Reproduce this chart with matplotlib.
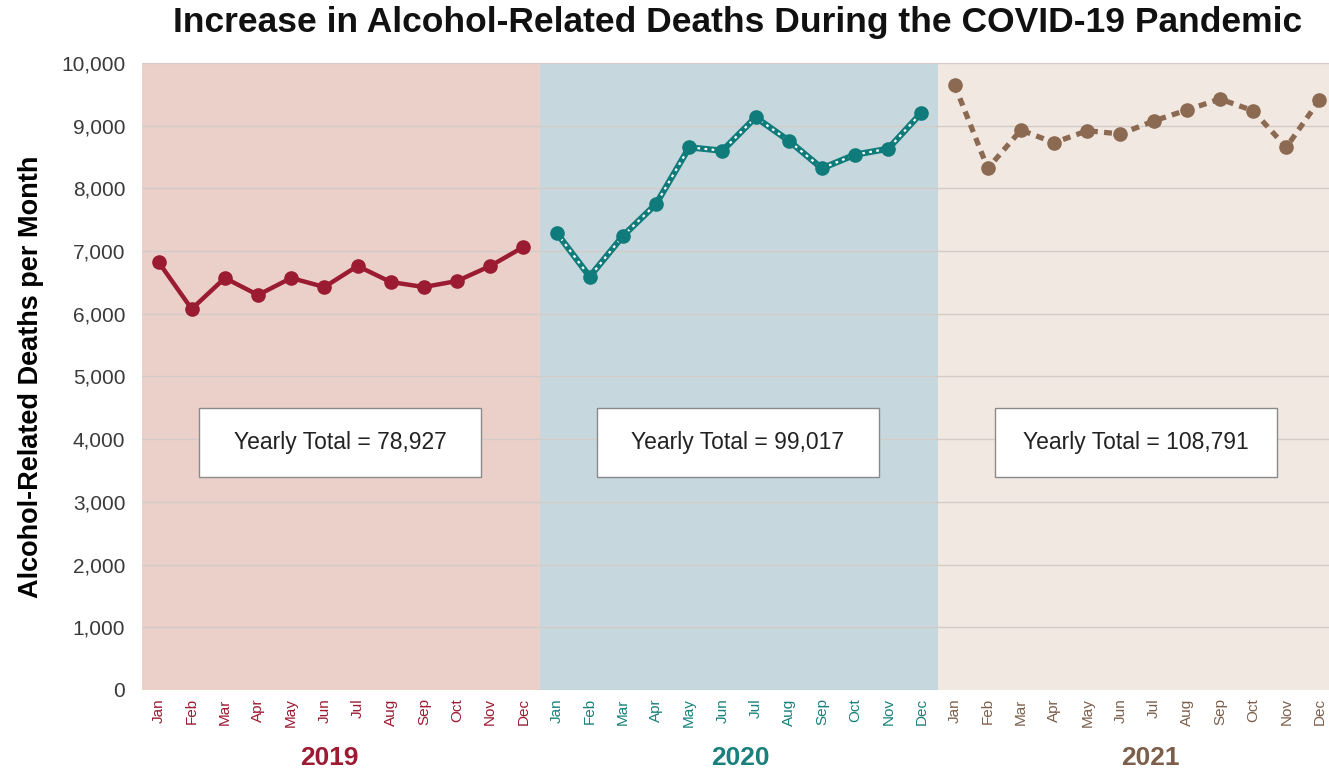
import matplotlib.pyplot as plt
from matplotlib.patches import Rectangle

plt.rcParams['font.family'] = ['Liberation Sans', 'DejaVu Sans']

months = ['Jan', 'Feb', 'Mar', 'Apr', 'May', 'Jun', 'Jul', 'Aug', 'Sep', 'Oct', 'Nov', 'Dec']
years = ['2019', '2020', '2021']
totals = ['78,927', '99,017', '108,791']

deaths_2019 = [6826, 6077, 6571, 6300, 6571, 6427, 6762, 6507, 6427, 6523, 6762, 7065]
deaths_2020 = [7293, 6592, 7241, 7751, 8655, 8601, 9134, 8761, 8320, 8538, 8633, 9207]
deaths_2021 = [9649, 8320, 8931, 8729, 8920, 8868, 9075, 9250, 9426, 9239, 8655, 9410]

line_colors = ['#9a1b32', '#0f7b7a', '#8c6a52']
band_colors = ['#ebd0c9', '#c6d8de', '#f2e8e2']
year_colors = ['#9a1b32', '#1a807b', '#7b5f4b']

fig = plt.figure(figsize=(13.29, 7.75), dpi=100)
# right edge runs a little past the image, like the original
ax = fig.add_axes([0.1068, 0.1097, 0.8985, 0.809])

ax.set_xlim(-0.5, 35.5)
ax.set_ylim(0, 10000)

for i in range(3):
    ax.axvspan(i * 12 - 0.5, i * 12 + 11.5, color=band_colors[i], zorder=0, lw=0)

for v in range(1000, 10001, 1000):
    ax.axhline(v, color='#d2cbc8', lw=1, zorder=1)

x19 = list(range(0, 12))
x20 = list(range(12, 24))
x21 = list(range(24, 36))

ax.plot(x19, deaths_2019, color=line_colors[0], lw=3.2, marker='o', ms=9.5, zorder=3)

ax.plot(x20, deaths_2020, color=line_colors[1], lw=4.5, zorder=3)
ax.plot(x20, deaths_2020, color='white', lw=1.6, ls=(0, (1.2, 2.0)), zorder=4)
ax.plot(x20, deaths_2020, ls='none', color=line_colors[1], marker='o', ms=9.5, zorder=5)

ax.plot(x21, deaths_2021, color=line_colors[2], lw=3.8, ls=(0, (1.5, 1.2)), zorder=3)
ax.plot(x21, deaths_2021, ls='none', color=line_colors[2], marker='o', ms=9.5, zorder=5)

for i in range(3):
    ax.add_patch(Rectangle((i * 12 + 1.22, 3400), 8.5, 1100, fc='white', ec='#8a8a8a', lw=1, zorder=6))
    ax.text(i * 12 + 5.47, 3950, 'Yearly Total = ' + totals[i], ha='center', va='center',
            fontsize=16.5, color='#222222', zorder=7)

ax.set_xticks(range(36))
ax.set_xticklabels(months * 3, rotation=90, fontsize=11)
for i, lab in enumerate(ax.get_xticklabels()):
    lab.set_color(year_colors[i // 12])
ax.tick_params(axis='x', length=0, pad=6)

ax.set_yticks(range(0, 10001, 1000))
ax.set_yticklabels(['{:,}'.format(v) for v in range(0, 10001, 1000)], fontsize=15, color='#3a3a3a')
ax.tick_params(axis='y', length=0, pad=12)

for s in ax.spines.values():
    s.set_visible(False)

ax.set_ylabel('Alcohol-Related Deaths per Month', fontsize=19.5, fontweight='bold', labelpad=12)

year_x = [5.14, 17.53, 29.9]
for i in range(3):
    ax.text(year_x[i], -0.108, years[i], transform=ax.get_xaxis_transform(), ha='center', va='center',
            fontsize=19, fontweight='bold', color=year_colors[i])

fig.text(0.555, 0.971, 'Increase in Alcohol-Related Deaths During the COVID-19 Pandemic',
         ha='center', va='center', fontsize=25.5, fontweight='bold', color='#111111')

fig.savefig('out.png', dpi=100)
